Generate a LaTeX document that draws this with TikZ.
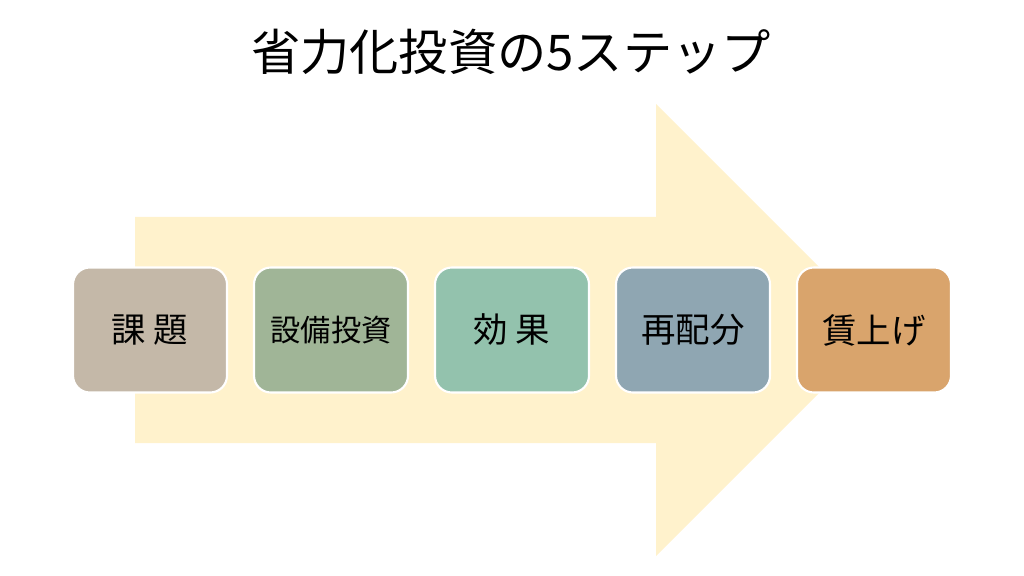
\documentclass[tikz,border=0pt]{standalone}
\usepackage{fontspec}
\newfontfamily\cjk{Noto Sans CJK JP}
\definecolor{arrowfill}{HTML}{FFF2CC}
\definecolor{c1}{HTML}{C4B8A8}
\definecolor{c2}{HTML}{A0B597}
\definecolor{c3}{HTML}{93C2AD}
\definecolor{c4}{HTML}{8FA6B2}
\definecolor{c5}{HTML}{D9A46C}
\begin{document}
\begin{tikzpicture}[x=0.025cm,y=-0.025cm,
  stepbox/.style={draw=white,line width=1.5pt,rounded corners=12pt,minimum width=154*0.025cm,minimum height=125*0.025cm,inner sep=0pt,font=\cjk\fontsize{24.5}{28}\selectfont,text=black}]
\useasboundingbox (0,0) rectangle (1024,576);
\fill[arrowfill] (135,217) -- (656,217) -- (656,104) -- (882,330) -- (656,556) -- (656,443) -- (135,443) -- cycle;
\node[font=\cjk\fontsize{35}{40}\selectfont] (title) at (511,52) {省力化投資の5ステップ};
\node[stepbox,fill=c1] (s1) at (150,330) {課 題};
\node[stepbox,fill=c2,font=\cjk\fontsize{21.5}{24}\selectfont] (s2) at (331,330) {設備投資};
\node[stepbox,fill=c3] (s3) at (512,330) {効 果};
\node[stepbox,fill=c4] (s4) at (693,330) {再配分};
\node[stepbox,fill=c5] (s5) at (874,330) {賃上げ};
\end{tikzpicture}
\end{document}
